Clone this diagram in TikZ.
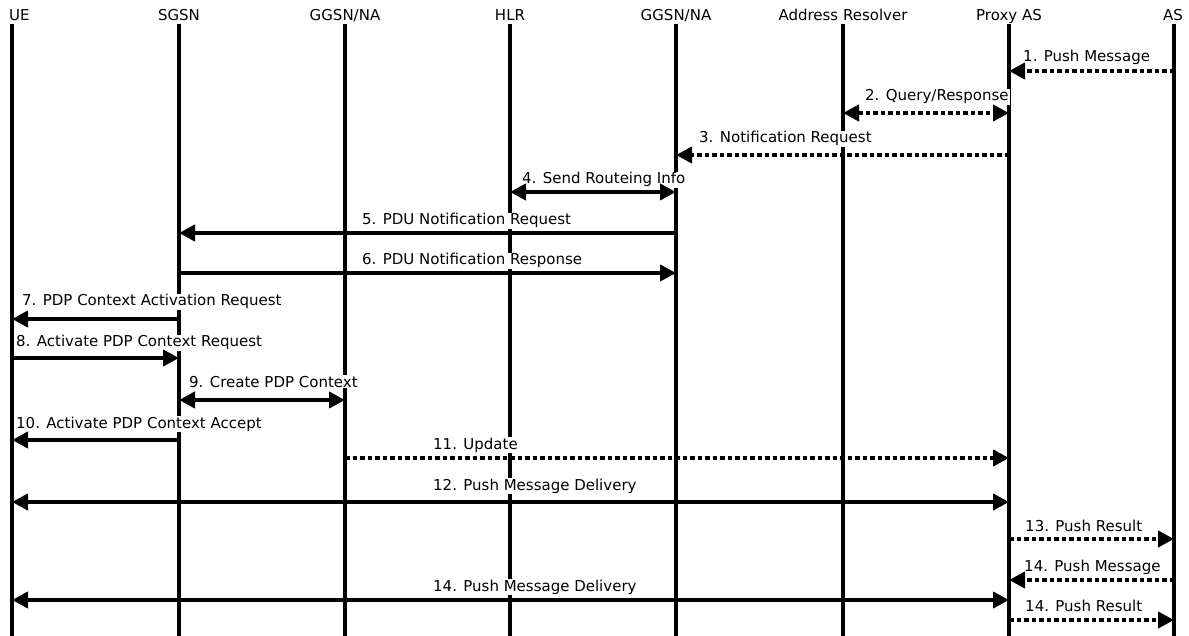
\documentclass[tikz,border=0pt]{standalone}
\usepackage{fontspec}
\setmainfont{DejaVu Sans}
\usetikzlibrary{arrows.meta}
\begin{document}
\begin{tikzpicture}[x=1pt,y=-1pt,
  life/.style={line width=4pt},
  msg/.style={line width=4pt},
  async/.style={line width=4pt, dash pattern=on 4.5pt off 3pt},
  hd/.style={font=\fontsize{15}{18}\selectfont, anchor=base, inner sep=0pt},
  lbl/.style={font=\fontsize{15}{18}\selectfont, anchor=base west, fill=white, inner sep=1pt},
  >={Triangle[length=16pt,width=16pt]}]
\useasboundingbox (0,0) rectangle (1189,636);
% lifelines
\foreach \n/\x in {ue/12, sgsn/179, ggsna/345, hlr/510, ggsnb/676, ar/843, pas/1009, as/1174} {
  \coordinate (\n) at (\x,24);
  \coordinate (\n-end) at (\x,636);
  \draw[life] (\n) -- (\n-end);
}
% headers
\node[hd, anchor=base west] (h-ue) at (9,21) {UE};
\node[hd] (h-sgsn) at (179,21) {SGSN};
\node[hd] (h-ggsna) at (345,21) {GGSN/NA};
\node[hd] (h-hlr) at (510,21) {HLR};
\node[hd] (h-ggsnb) at (676,21) {GGSN/NA};
\node[hd] (h-ar) at (843,21) {Address Resolver};
\node[hd] (h-pas) at (1009,21) {Proxy AS};
\node[hd] (h-as) at (1173,21) {AS};
% message rows
\foreach \m/\y in {m1/71, m2/113, m3/155, m4/192, m5/233, m6/273, m7/319, m8/358, m9/400, m10/440, m11/458, m12/502, m13/539, m14a/580, m14b/600, m14c/620} {
  \coordinate (\m) at (0,\y);
}
% labels
\node[lbl] (l1) at (1022,62) {1. Push Message};
\node[lbl] (l2) at (864,101) {2. Query/Response};
\node[lbl] (l3) at (698,143) {3. Notification Request};
\node[lbl] (l4) at (521,184) {4. Send Routeing Info};
\node[lbl] (l5) at (361,225) {5. PDU Notification Request};
\node[lbl] (l6) at (361,265) {6. PDU Notification Response};
\node[lbl] (l7) at (21,306) {7. PDP Context Activation Request};
\node[lbl] (l8) at (15,347) {8. Activate PDP Context Request};
\node[lbl] (l9) at (188,387) {9. Create PDP Context};
\node[lbl] (l10) at (15,428) {10. Activate PDP Context Accept};
\node[lbl] (l11) at (432,449) {11. Update};
\node[lbl] (l12) at (432,490) {12. Push Message Delivery};
\node[lbl] (l13) at (1024,531) {13. Push Result};
\node[lbl] (l14a) at (1023,571) {14. Push Message};
\node[lbl] (l14b) at (432,591) {14. Push Message Delivery};
\node[lbl] (l14c) at (1024,611) {14. Push Result};
% arrows
\draw[async,->] (as |- m1) -- (pas |- m1);
\draw[async,<->] (ar |- m2) -- (pas |- m2);
\draw[async,->] (pas |- m3) -- (ggsnb |- m3);
\draw[msg,<->] (hlr |- m4) -- (ggsnb |- m4);
\draw[msg,->] (ggsnb |- m5) -- (sgsn |- m5);
\draw[msg,->] (sgsn |- m6) -- (ggsnb |- m6);
\draw[msg,->] (sgsn |- m7) -- (ue |- m7);
\draw[msg,->] (ue |- m8) -- (sgsn |- m8);
\draw[msg,<->] (sgsn |- m9) -- (ggsna |- m9);
\draw[msg,->] (sgsn |- m10) -- (ue |- m10);
\draw[async,->] (ggsna |- m11) -- (pas |- m11);
\draw[msg,<->] (ue |- m12) -- (pas |- m12);
\draw[async,->] (pas |- m13) -- (as |- m13);
\draw[async,->] (as |- m14a) -- (pas |- m14a);
\draw[msg,<->] (ue |- m14b) -- (pas |- m14b);
\draw[async,->] (pas |- m14c) -- (as |- m14c);
\end{tikzpicture}
\end{document}
